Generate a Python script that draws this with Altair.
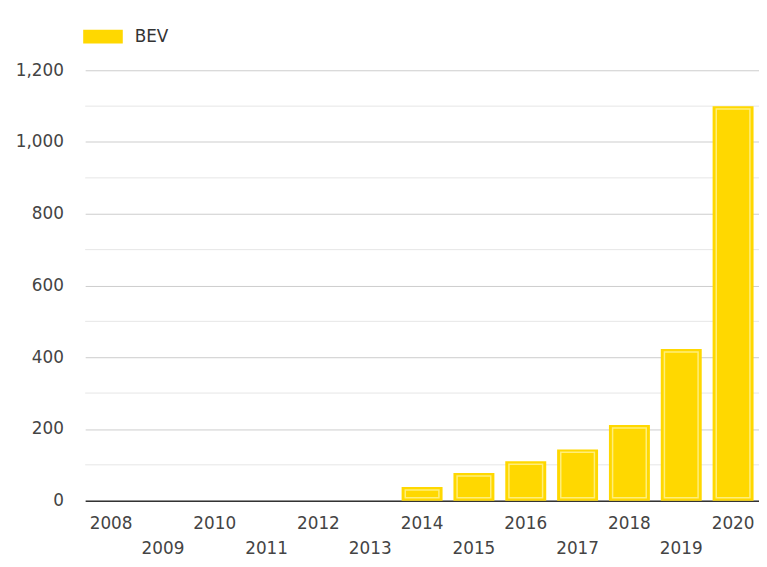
import altair as alt
import pandas as pd

years = [str(y) for y in range(2008, 2021)]
bev = [0, 0, 0, 0, 0, 0, 38, 77, 110, 143, 211, 423, 1100]
major_ticks = [0, 200, 400, 600, 800, 1000, 1200]
minor_ticks = [100, 300, 500, 700, 900, 1100]

df = pd.DataFrame({"year": years, "BEV": bev, "series": ["BEV"] * len(years)})
minor = pd.DataFrame({"v": minor_ticks})

FONT = "DejaVu Sans"
GOLD = "#FFD800"
LIGHT = "#FFEE7A"

x = alt.X(
    "year:O", title=None,
    scale=alt.Scale(paddingInner=0.21, paddingOuter=0.105),
    axis=alt.Axis(
        labelAngle=0, domainColor="#333333", domainWidth=1.5, ticks=False,
        labelFont=FONT, labelFontSize=17, labelColor="#444444",
        labelBaseline="top",
        labelPadding={"condition": {"test": "toNumber(datum.value) % 2 == 1", "value": 40}, "value": 15},
    ),
)
y = alt.Y(
    "BEV:Q", title=None,
    scale=alt.Scale(domain=[0, 1200], nice=False),
    axis=alt.Axis(
        values=major_ticks, format=",d", domain=False, ticks=False,
        gridColor="#cccccc", labelFont=FONT, labelFontSize=17,
        labelColor="#444444", labelPadding=22,
    ),
)

minor_rules = alt.Chart(minor).mark_rule(color="#e6e6e6", strokeWidth=1).encode(
    y=alt.Y("v:Q", scale=alt.Scale(domain=[0, 1200], nice=False))
)

bars = alt.Chart(df).mark_bar(opacity=1).encode(
    x=x, y=y,
    color=alt.Color(
        "series:N", scale=alt.Scale(range=[GOLD]),
        legend=alt.Legend(
            title=None, orient="none", legendX=-2, legendY=-54,
            symbolType="M-1,-0.35L1,-0.35L1,0.35L-1,0.35Z", symbolSize=1600,
            symbolStrokeWidth=0, symbolOpacity=1, labelFont=FONT, labelFontSize=17,
            labelColor="#333333", labelOffset=12, padding=0,
        ),
    ),
)

inner = alt.Chart(df).transform_filter("datum.BEV > 0").mark_bar(
    filled=False, stroke=LIGHT, strokeWidth=1.5, size=34, yOffset=3, y2Offset=-3
).encode(x=alt.X("year:O"), y=alt.Y("BEV:Q"), y2=alt.datum(0))

chart = alt.layer(minor_rules, bars, inner).properties(
    width=681, height=435,
    autosize="none",
    padding={"left": 78, "top": 60, "right": 0, "bottom": 56},
).configure_view(stroke=None).configure_axis(gridWidth=1)

chart.save("out.html", embed_options={"renderer": "svg", "actions": False})
